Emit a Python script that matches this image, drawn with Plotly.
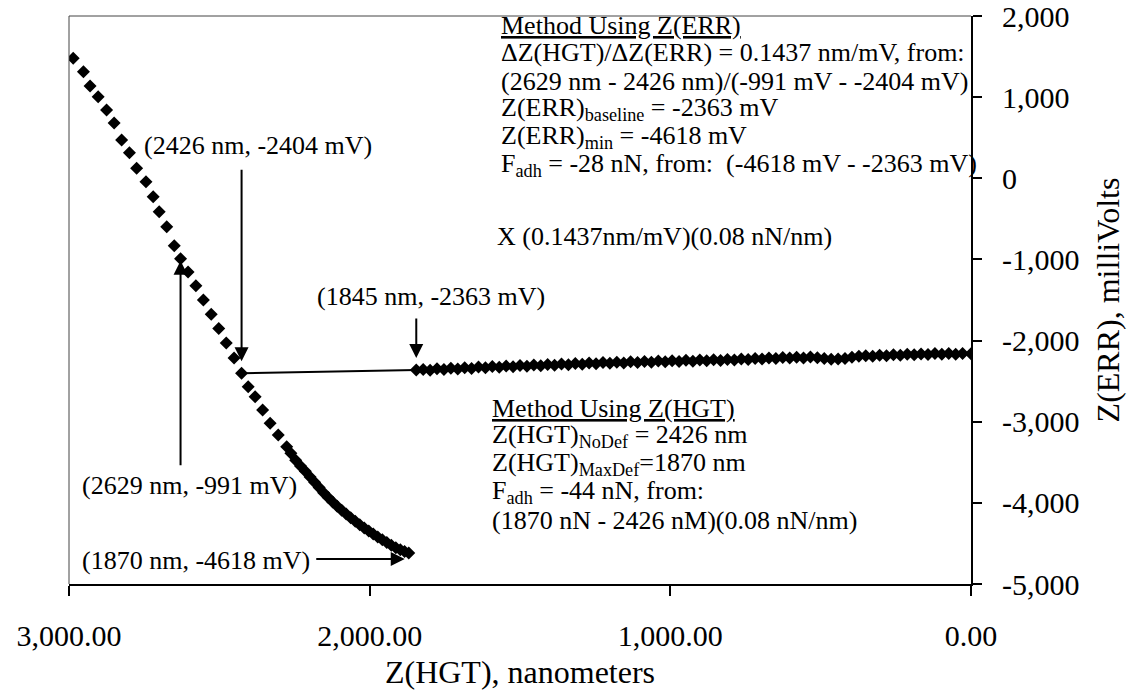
import plotly.graph_objects as go

# ---------------- data ----------------
approach_x = [2986, 2952, 2930, 2903, 2875, 2850, 2825, 2799, 2775, 2744,
              2720, 2700, 2675, 2650, 2629, 2604, 2578, 2553, 2527, 2502,
              2477, 2451, 2426, 2404, 2381, 2356, 2331, 2304, 2276, 2262,
              2246, 2230, 2214, 2198, 2183, 2168, 2153, 2138, 2123, 2108,
              2093, 2078, 2063, 2048, 2033, 2018, 2003, 1988, 1973, 1958,
              1943, 1928, 1913, 1898, 1884, 1870]
approach_y = [1479, 1314, 1137, 1005, 842, 681, 472, 315, 123, -42,
              -227, -412, -597, -830, -991, -1155, -1325, -1500, -1675, -1850,
              -2030, -2215, -2404, -2568, -2692, -2856, -3020, -3164, -3308, -3390,
              -3475, -3545, -3612, -3680, -3745, -3810, -3875, -3935, -3990, -4042,
              -4090, -4138, -4185, -4228, -4270, -4310, -4348, -4385, -4420, -4455,
              -4490, -4522, -4552, -4578, -4600, -4618]

baseline_x = [1845, 1822, 1799, 1776, 1753, 1730, 1707, 1684, 1661, 1638,
              1615, 1592, 1569, 1546, 1523, 1500, 1477, 1454, 1431, 1408,
              1385, 1362, 1339, 1316, 1293, 1270, 1247, 1224, 1201, 1178,
              1155, 1132, 1109, 1086, 1063, 1040, 1017, 994, 971, 948,
              925, 902, 879, 856, 833, 810, 787, 764, 741, 718,
              695, 672, 649, 626, 603, 580, 557, 534, 511, 488,
              465, 442, 419, 396, 373, 350, 327, 304, 281, 258,
              235, 212, 189, 166, 143, 120, 97, 74, 51, 28, 0]
baseline_y = [-2363, -2355, -2365, -2348, -2356, -2340, -2350, -2334, -2343, -2327,
              -2336, -2320, -2330, -2314, -2322, -2306, -2316, -2300, -2309, -2294,
              -2303, -2288, -2297, -2282, -2292, -2277, -2286, -2271, -2280, -2266,
              -2276, -2262, -2271, -2257, -2266, -2252, -2262, -2248, -2258, -2244,
              -2254, -2240, -2250, -2236, -2246, -2232, -2240, -2226, -2234, -2220,
              -2228, -2214, -2222, -2208, -2216, -2205, -2214, -2202, -2212, -2222,
              -2230, -2226, -2220, -2206, -2194, -2186, -2194, -2180, -2188, -2174,
              -2182, -2168, -2176, -2164, -2172, -2160, -2170, -2158, -2168, -2160, -2163]

# key points referenced by the labels
no_def = (2426, -2404)       # Z(HGT)NoDef
slope_pt = (2629, -991)
base_pt = (1845, -2363)
min_pt = (1870, -4618)

x_ticks = [3000, 2000, 1000, 0]
x_ticktext = ["3,000.00", "2,000.00", "1,000.00", "0.00"]
y_ticks = [2000, 1000, 0, -1000, -2000, -3000, -4000, -5000]
y_ticktext = ["2,000", "1,000", "0", "-1,000", "-2,000", "-3,000", "-4,000", "-5,000"]

upper_lines = [
    "<u>Method Using Z(ERR)</u>",
    "ΔZ(HGT)/ΔZ(ERR) = 0.1437 nm/mV, from:",
    "(2629 nm - 2426 nm)/(-991 mV - -2404 mV)",
    "Z(ERR)<sub>baseline</sub> = -2363 mV",
    "Z(ERR)<sub>min</sub> = -4618 mV",
    "F<sub>adh</sub> = -28 nN, from:  (-4618 mV - -2363 mV)",
]
factor_line = "X (0.1437nm/mV)(0.08 nN/nm)"
lower_lines = [
    "<u>Method Using Z(HGT)</u>",
    "Z(HGT)<sub>NoDef</sub> = 2426 nm",
    "Z(HGT)<sub>MaxDef</sub>=1870 nm",
    "F<sub>adh</sub> = -44 nN, from:",
    "(1870 nN - 2426 nM)(0.08 nN/nm)",
]

# ---------------- figure ----------------
FONT = "Liberation Serif, Times New Roman, serif"
W, H = 1132, 694
L, R, T, B = 69, 161, 16, 110
PW, PH = W - L - R, H - T - B


def px(xp):
    return (xp - L) / PW


def py(yp):
    return (H - B - yp) / PH


fig = go.Figure()

fig.add_trace(go.Scatter(
    x=[no_def[0], base_pt[0]], y=[no_def[1], base_pt[1]],
    mode="lines", line=dict(color="black", width=2), hoverinfo="skip",
    showlegend=False))

fig.add_trace(go.Scatter(
    x=approach_x, y=approach_y, mode="markers",
    marker=dict(symbol="diamond", size=10, color="black", line=dict(width=0)),
    showlegend=False))

fig.add_trace(go.Scatter(
    x=baseline_x, y=baseline_y, mode="markers",
    marker=dict(symbol="diamond", size=10, color="black", line=dict(width=0)),
    showlegend=False))

ann = []
tfont = dict(family=FONT, size=26, color="black")

# arrows
ann.append(dict(x=no_def[0], y=no_def[1], xref="x", yref="y", ax=0, ay=-205,
                showarrow=True, arrowhead=2, arrowsize=1.4, arrowwidth=2,
                arrowcolor="black", standoff=12, text=""))
ann.append(dict(x=slope_pt[0], y=slope_pt[1], xref="x", yref="y", ax=0, ay=208,
                showarrow=True, arrowhead=2, arrowsize=1.4, arrowwidth=2,
                arrowcolor="black", standoff=2, text=""))
ann.append(dict(x=base_pt[0], y=base_pt[1], xref="x", yref="y", ax=0, ay=-53,
                showarrow=True, arrowhead=2, arrowsize=1.4, arrowwidth=2,
                arrowcolor="black", standoff=12, text=""))
ann.append(dict(x=min_pt[0], y=min_pt[1], xref="x", yref="y", ax=-94, ay=0,
                yshift=-6, showarrow=True, arrowhead=2, arrowsize=1.4,
                arrowwidth=2, arrowcolor="black", standoff=4, text=""))

# point labels
ann.append(dict(x=px(142), y=py(145), xref="paper", yref="paper",
                text=f"({no_def[0]} nm, {no_def[1]} mV)", showarrow=False,
                xanchor="left", yanchor="middle", font=tfont))
ann.append(dict(x=px(80), y=py(485), xref="paper", yref="paper",
                text=f"({slope_pt[0]} nm, {slope_pt[1]} mV)", showarrow=False,
                xanchor="left", yanchor="middle", font=tfont))
ann.append(dict(x=px(315), y=py(296), xref="paper", yref="paper",
                text=f"({base_pt[0]} nm, {base_pt[1]} mV)", showarrow=False,
                xanchor="left", yanchor="middle", font=tfont))
ann.append(dict(x=px(80), y=py(560), xref="paper", yref="paper",
                text=f"({min_pt[0]} nm, {min_pt[1]} mV)", showarrow=False,
                xanchor="left", yanchor="middle", font=tfont))

# text blocks
upper_y = [25, 53, 81, 109, 137, 165]
for t, yy in zip(upper_lines, upper_y):
    ann.append(dict(x=px(499), y=py(yy), xref="paper", yref="paper", text=t,
                    showarrow=False, xanchor="left", yanchor="middle", font=tfont))
ann.append(dict(x=px(495), y=py(236), xref="paper", yref="paper", text=factor_line,
                showarrow=False, xanchor="left", yanchor="middle", font=tfont))
lower_y = [408, 436, 464, 492, 520]
for t, yy in zip(lower_lines, lower_y):
    ann.append(dict(x=px(490), y=py(yy), xref="paper", yref="paper", text=t,
                    showarrow=False, xanchor="left", yanchor="middle", font=tfont))

# thin frame on the top and left sides
shapes = [
    dict(type="line", xref="paper", yref="paper", x0=0, x1=1, y0=1, y1=1,
         line=dict(color="#444444", width=1)),
    dict(type="line", xref="paper", yref="paper", x0=0, x1=0, y0=0, y1=1,
         line=dict(color="#444444", width=1)),
]

fig.update_layout(
    width=W, height=H,
    margin=dict(l=L, r=R, t=T, b=B, autoexpand=False),
    paper_bgcolor="white", plot_bgcolor="white",
    font=dict(family=FONT, color="black"),
    annotations=ann, shapes=shapes,
    showlegend=False,
)

fig.update_xaxes(
    range=[3000, 0], tickvals=x_ticks, ticktext=x_ticktext,
    showgrid=False, zeroline=False, showline=True, linecolor="black",
    linewidth=2, mirror=False, ticks="outside", ticklen=10, tickwidth=1.5,
    tickcolor="black", tickfont=dict(family=FONT, size=30, color="black"),
    ticklabelstandoff=14, ticklabeloverflow="allow",
    title=dict(text="Z(HGT), nanometers", font=dict(family=FONT, size=32),
               standoff=10),
    automargin=False,
)
fig.update_yaxes(
    range=[-5000, 2000], tickvals=y_ticks, ticktext=y_ticktext, side="right",
    showgrid=False, zeroline=False, showline=True, linecolor="black",
    linewidth=2, mirror=False, ticks="outside", ticklen=9, tickwidth=1.5,
    tickcolor="black", tickfont=dict(family=FONT, size=30, color="black"),
    ticklabelstandoff=14, ticklabeloverflow="allow",
    title=dict(text="Z(ERR), milliVolts", font=dict(family=FONT, size=32),
               standoff=18),
    automargin=False,
)

fig.write_html("out.html")
